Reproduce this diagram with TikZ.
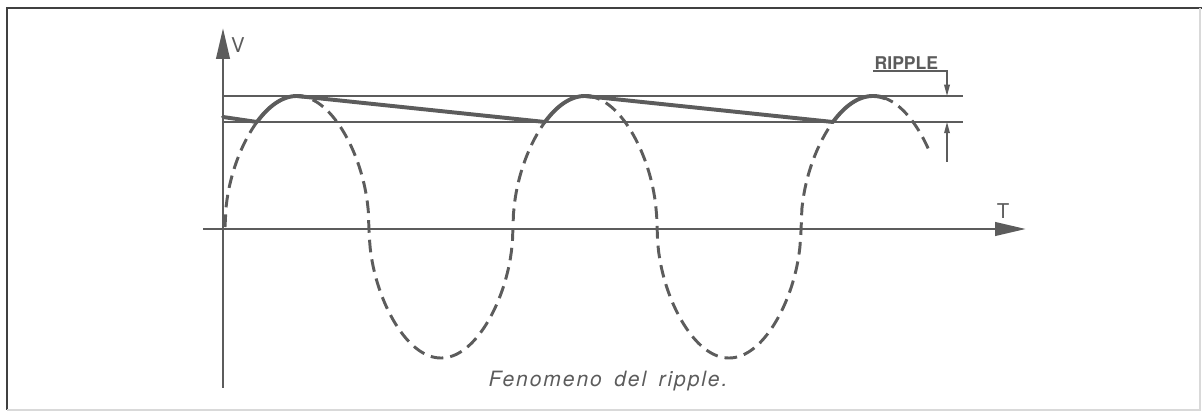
\documentclass[tikz,border=0pt]{standalone}
\usepackage{fontspec}
\setsansfont{TeX Gyre Heros}
\newfontfamily\capfont{TeX Gyre Heros}[LetterSpace=9, WordSpace=1.6]
\usepackage{xcolor}
\usepackage{tikz}
\usetikzlibrary{arrows.meta}
\definecolor{inkgray}{HTML}{5C5C5C}

\begin{document}
\begin{tikzpicture}[x=0.025cm, y=0.025cm, font=\sffamily,
  declare function={vwave(\t)=131*sign(sin(1.25*(\t-2)))*sqrt(abs(sin(1.25*(\t-2))))+2;},
  axis/.style={draw=inkgray, line width=2.1pt, -{Triangle[length=22pt,width=9.5pt]}},
  wave/.style={draw=inkgray, line width=2.1pt, dash pattern=on 9pt off 5pt},
  charge/.style={draw=inkgray, line width=2.8pt, line cap=round},
  level/.style={draw=inkgray, line width=1pt},
  ripplearrow/.style={level, -{Triangle[length=8pt,width=4pt]}},
  axlabel/.style={font=\sffamily\fontsize{14.5}{16}\selectfont, text=inkgray}]

  \useasboundingbox (-223,-183) rectangle (979,229);

  % 边框
  \draw[black!75, line width=1.4pt] (-216,-181) -- (-216,221) -- (979,221);
  \draw[black!15, line width=0.8pt] (-216,-181) -- (977,-181) -- (977,221);

  % 坐标轴
  \coordinate (O) at (0,0);
  \coordinate (ybot) at (0,-159);
  \coordinate (ytop) at (0,201);
  \coordinate (xleft) at (-20,0);
  \coordinate (xright) at (803,0);
  \draw[axis] (ybot) -- (ytop);
  \draw[axis] (xleft) -- (xright);
  \node[axlabel] (lV) at (15,184) {V};
  \node[axlabel] (lT) at (780,18) {T};

  % 最大值与最小值
  \coordinate (hiL) at (0,133);
  \coordinate (hiR) at (740,133);
  \coordinate (loL) at (0,107);
  \coordinate (loR) at (740,107);
  \draw[level] (hiL) -- (hiR);
  \draw[level] (loL) -- (loR);

  % 正弦波（虚线）
  \draw[wave] plot[domain=2:707, samples=700, variable=\x] (\x,{vwave(\x)});

  % 电容电压
  \foreach \a/\b in {34/80, 322/368, 610/662}{
    \draw[charge] plot[domain=\a:\b, samples=40, variable=\x] (\x,{vwave(\x)});
  }
  \draw[charge] (0,112) -- (34,107);
  \foreach \p/\q in {74/322, 362/610}{
    \draw[charge] (\p,133) -- (\q,107);
  }

  % 纹波标注
  \node[font=\sffamily\bfseries\fontsize{12.5}{14}\selectfont, text=inkgray,
        anchor=south west, inner sep=1pt] (rip) at (650,158) {RIPPLE};
  \coordinate (ripk) at (724,158);
  \coordinate (riptop) at (724,133);
  \coordinate (ripbot) at (724,67);
  \coordinate (riplow) at (724,107);
  \draw[ripplearrow] (rip.south west) -- (ripk) -- (riptop);
  \draw[ripplearrow] (ripbot) -- (riplow);

  % 图注
  \node[font=\capfont\itshape\fontsize{15}{17}\selectfont,
        text=inkgray, anchor=base] (cap) at (385,-158) {Fenomeno del ripple.};

\end{tikzpicture}
\end{document}
